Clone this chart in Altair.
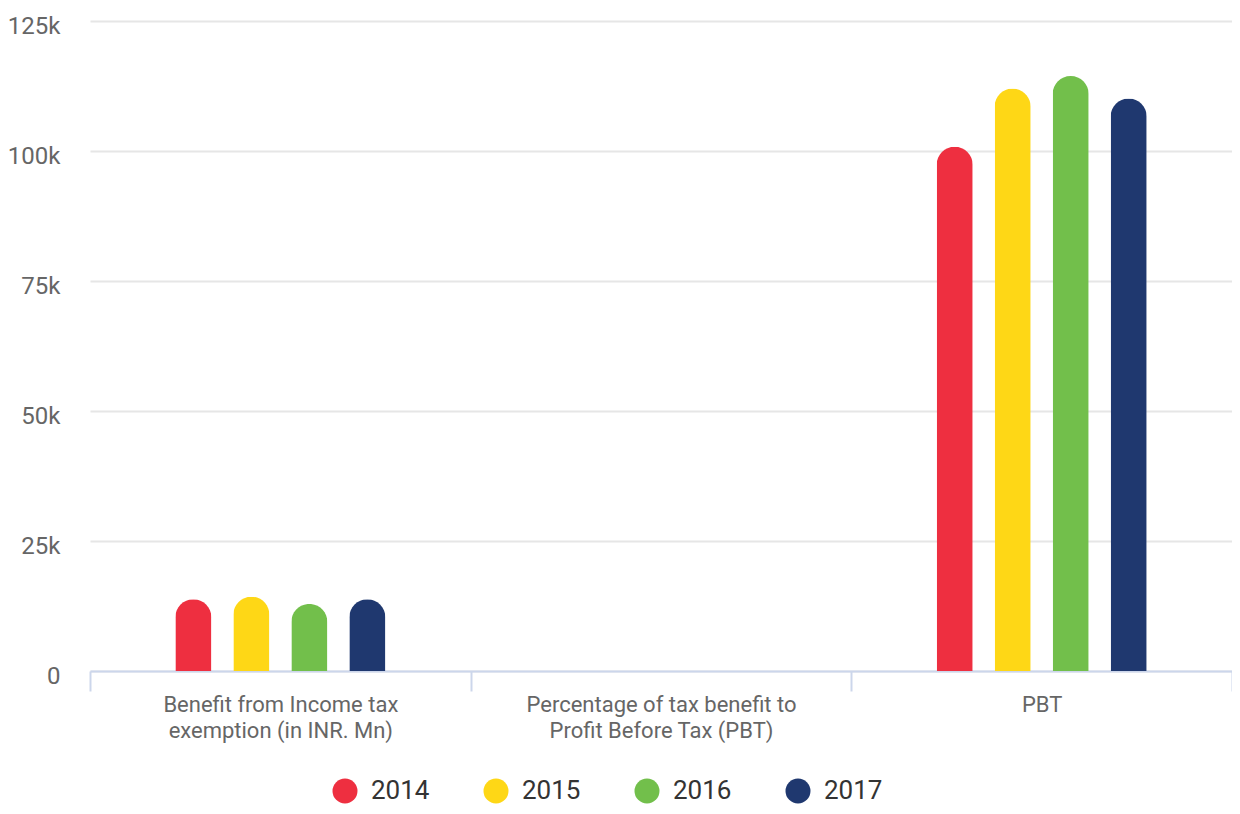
import altair as alt
import pandas as pd

categories = [
    "Benefit from Income tax|exemption (in INR. Mn)",
    "Percentage of tax benefit to|Profit Before Tax (PBT)",
    "PBT",
]
years = ["2014", "2015", "2016", "2017"]
benefit = [13800, 14300, 12900, 13800]
percentage = [13.7, 12.8, 11.3, 12.6]
pbt = [100800, 112000, 114400, 110100]
colors = ["#EE2F40", "#FED716", "#72BF4B", "#1F386F"]
y_ticks = [0, 25000, 50000, 75000, 100000, 125000]

rows = []
for cat, vals in zip(categories, [benefit, percentage, pbt]):
    for yr, v in zip(years, vals):
        rows.append({"category": cat, "year": yr, "value": v})
df = pd.DataFrame(rows)

FONT = "Roboto"
PLOT_W = 1142
BAND = PLOT_W / 3
GROUP = 210
off0 = (BAND - GROUP) / 2

chart = (
    alt.Chart(df)
    .mark_bar(cornerRadiusTopLeft=18, cornerRadiusTopRight=18)
    .encode(
        x=alt.X(
            "category:N",
            sort=categories,
            scale=alt.Scale(paddingInner=0, paddingOuter=0),
            axis=alt.Axis(
                title=None,
                labelAngle=0,
                labelExpr="split(datum.label, '|')",
                labelLimit=0,
                labelFont=FONT,
                labelFontSize=22,
                labelColor="#666666",
                labelLineHeight=26,
                labelPadding=3,
                labelBaseline="top",
                tickBand="extent",
                tickSize=20,
                tickWidth=2,
                tickColor="#ccd6eb",
                domainColor="#ccd6eb",
                domainWidth=2,
                grid=False,
            ),
        ),
        xOffset=alt.XOffset(
            "year:N",
            sort=years,
            scale=alt.Scale(paddingInner=0.379, paddingOuter=0, range=[off0, off0 + GROUP]),
        ),
        y=alt.Y(
            "value:Q",
            scale=alt.Scale(domain=[0, 125000], nice=False),
            axis=alt.Axis(
                title=None,
                values=y_ticks,
                labelExpr="datum.value == 0 ? '0' : format(datum.value / 1000, 'd') + 'k'",
                labelFont=FONT,
                labelFontSize=24,
                labelColor="#666666",
                labelPadding=30,
                labelOffset=5,
                ticks=False,
                tickSize=0,
                domain=False,
                gridColor="#e6e6e6",
                gridWidth=2,
            ),
        ),
        color=alt.Color(
            "year:N",
            sort=years,
            scale=alt.Scale(domain=years, range=colors),
            legend=alt.Legend(
                title=None,
                orient="none",
                direction="horizontal",
                legendX=242,
                legendY=757,
                symbolType="circle",
                symbolSize=625,
                symbolStrokeWidth=0,
                symbolOpacity=1,
                labelFont=FONT,
                labelFontSize=26,
                labelColor="#333333",
                labelOffset=13,
                columnPadding=53,
                padding=0,
            ),
        ),
    )
    .properties(
        width=PLOT_W,
        height=650,
        autosize=alt.AutoSizeParams(type="none"),
        padding={"left": 82, "top": 13, "right": 0, "bottom": 135},
    )
    .configure_view(stroke=None)
)

chart.save("out.html", embed_options={"renderer": "svg", "actions": False})
